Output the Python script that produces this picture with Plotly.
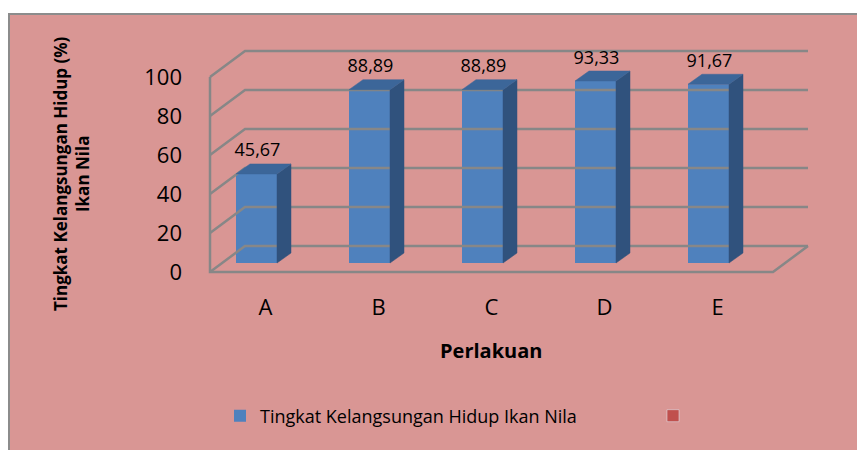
import plotly.graph_objects as go

# ---------- DADOS ----------
perlakuan = ['A', 'B', 'C', 'D', 'E']
nilai = [45.67, 88.89, 88.89, 93.33, 91.67]
label_nilai = ['45,67', '88,89', '88,89', '93,33', '91,67']
y_ticks = [0, 20, 40, 60, 80, 100]
nama_seri = 'Tingkat Kelangsungan Hidup Ikan Nila'

# ---------- ESTILO / GEOMETRIA ----------
W, H = 865, 450
OFF = 8                      # margem do body da página
ML, MR, MT, MB = 205 - OFF, 53 + OFF, 40 - OFF, 172 + OFF
BG = '#D99694'
GRID = '#878787'
FRONT = '#4F81BD'
SIDE = '#30527D'
TOP = '#3C6699'
FONT = 'Open Sans'

px_cat = 113.0          # px por categoria
px_val = 1.95           # px por unidade
x_origin = 244.5        # px (tela) da categoria 0 no plano frontal

def ux(p):
    return p / px_cat

def uy(p):
    return p / px_val

DX, DY = ux(35), uy(26)
bar_dx, bar_dy = ux(12), uy(9)
dep_dx, dep_dy = ux(14), uy(10)
half_w = ux(41) / 2

xL = ux(210 - x_origin)
xR = ux(773 - x_origin)

fig = go.Figure()

# paredes / grade
for v in y_ticks:
    fig.add_trace(go.Scatter(x=[xL, xL + DX, xR + DX], y=[v, v + DY, v + DY], mode='lines',
                             line=dict(color=GRID, width=2.5), hoverinfo='skip', showlegend=False))
fig.add_trace(go.Scatter(x=[xL, xL, xR, xR + DX], y=[y_ticks[-1], 0, 0, DY], mode='lines',
                         line=dict(color=GRID, width=2.5), hoverinfo='skip', showlegend=False))

# barras 3D
xs = list(range(len(perlakuan)))
for i, v in zip(xs, nilai):
    cx = i + bar_dx
    l, r, b, t = cx - half_w, cx + half_w, bar_dy, bar_dy + v
    fig.add_trace(go.Scatter(x=[r, r + dep_dx, r + dep_dx, r, r], y=[b, b + dep_dy, t + dep_dy, t, b],
                             fill='toself', fillcolor=SIDE, mode='lines', line=dict(color=SIDE, width=0.5),
                             hoverinfo='skip', showlegend=False))
    fig.add_trace(go.Scatter(x=[l, l + dep_dx, r + dep_dx, r, l], y=[t, t + dep_dy, t + dep_dy, t, t],
                             fill='toself', fillcolor=TOP, mode='lines', line=dict(color=TOP, width=0.5),
                             hoverinfo='skip', showlegend=False))

fig.add_trace(go.Bar(
    x=[i + bar_dx for i in xs], y=nilai, base=bar_dy, width=2 * half_w,
    marker=dict(color=FRONT, line=dict(width=0)), name=nama_seri, hoverinfo='skip'
))
fig.add_trace(go.Bar(x=[None], y=[None], marker=dict(color='#C0504D'), name=' ',
                     hoverinfo='skip', legend='legend2'))

# rótulos de dados
fig.add_trace(go.Scatter(
    x=[i + bar_dx + ux(1) for i in xs], y=[v + bar_dy + dep_dy + uy(12) for v in nilai],
    mode='text', text=label_nilai, textposition='middle center',
    textfont=dict(family=FONT, size=18, color='black'), hoverinfo='skip', showlegend=False
))

# coordenadas de tela -> paper
def pxx(p):
    return (p - OFF - ML) / (W - ML - MR)

def pyy(p):
    return (H - MB - (p - OFF)) / (H - MT - MB)

fig.update_layout(
    width=W, height=H,
    margin=dict(l=ML, r=MR, t=MT, b=MB, autoexpand=False),
    paper_bgcolor=BG, plot_bgcolor='rgba(0,0,0,0)',
    font=dict(family=FONT, color='black'),
    barmode='overlay',
    xaxis=dict(
        range=[ux(205 - x_origin), ux(812 - x_origin)],
        tickvals=[i + bar_dx + dep_dx / 2 + ux(2) for i in xs], ticktext=perlakuan,
        tickfont=dict(size=22), showgrid=False, zeroline=False, showline=False,
        ticks='', ticklabelstandoff=14
    ),
    yaxis=dict(
        range=[uy(272 - 278), uy(272 - 40)],
        tickvals=y_ticks, tickfont=dict(size=22), showgrid=False, zeroline=False,
        showline=False, ticks='', ticklabelstandoff=22
    ),
    legend=dict(
        orientation='h', x=pxx(220), y=pyy(416), xanchor='left', yanchor='middle',
        font=dict(size=18), bgcolor='rgba(0,0,0,0)'
    ),
    legend2=dict(
        orientation='h', x=pxx(653), y=pyy(416), xanchor='left', yanchor='middle',
        font=dict(size=18), bgcolor='rgba(0,0,0,0)'
    ),
    annotations=[
        dict(text='<b>Tingkat Kelangsungan Hidup (%)<br>Ikan Nila</b>', textangle=-90,
             xref='paper', yref='paper', x=pxx(71), y=pyy(174), xanchor='center', yanchor='middle',
             showarrow=False, font=dict(size=17)),
        dict(text='<b>Perlakuan</b>', xref='paper', yref='paper', x=pxx(491), y=pyy(350),
             xanchor='center', yanchor='middle', showarrow=False, font=dict(size=20)),
    ],
    shapes=[
        dict(type='rect', xref='paper', yref='paper', x0=pxx(0), x1=pxx(880), y0=pyy(0), y1=pyy(14),
             fillcolor='white', line=dict(width=0), layer='below'),
        dict(type='line', xref='paper', yref='paper', x0=pxx(OFF), x1=pxx(880), y0=pyy(14), y1=pyy(14),
             line=dict(color='#8C8C8C', width=2)),
        dict(type='line', xref='paper', yref='paper', x0=pxx(OFF + 1), x1=pxx(OFF + 1), y0=pyy(14), y1=pyy(470),
             line=dict(color='#8C8C8C', width=2)),
    ],
)

fig.write_html("out.html")
